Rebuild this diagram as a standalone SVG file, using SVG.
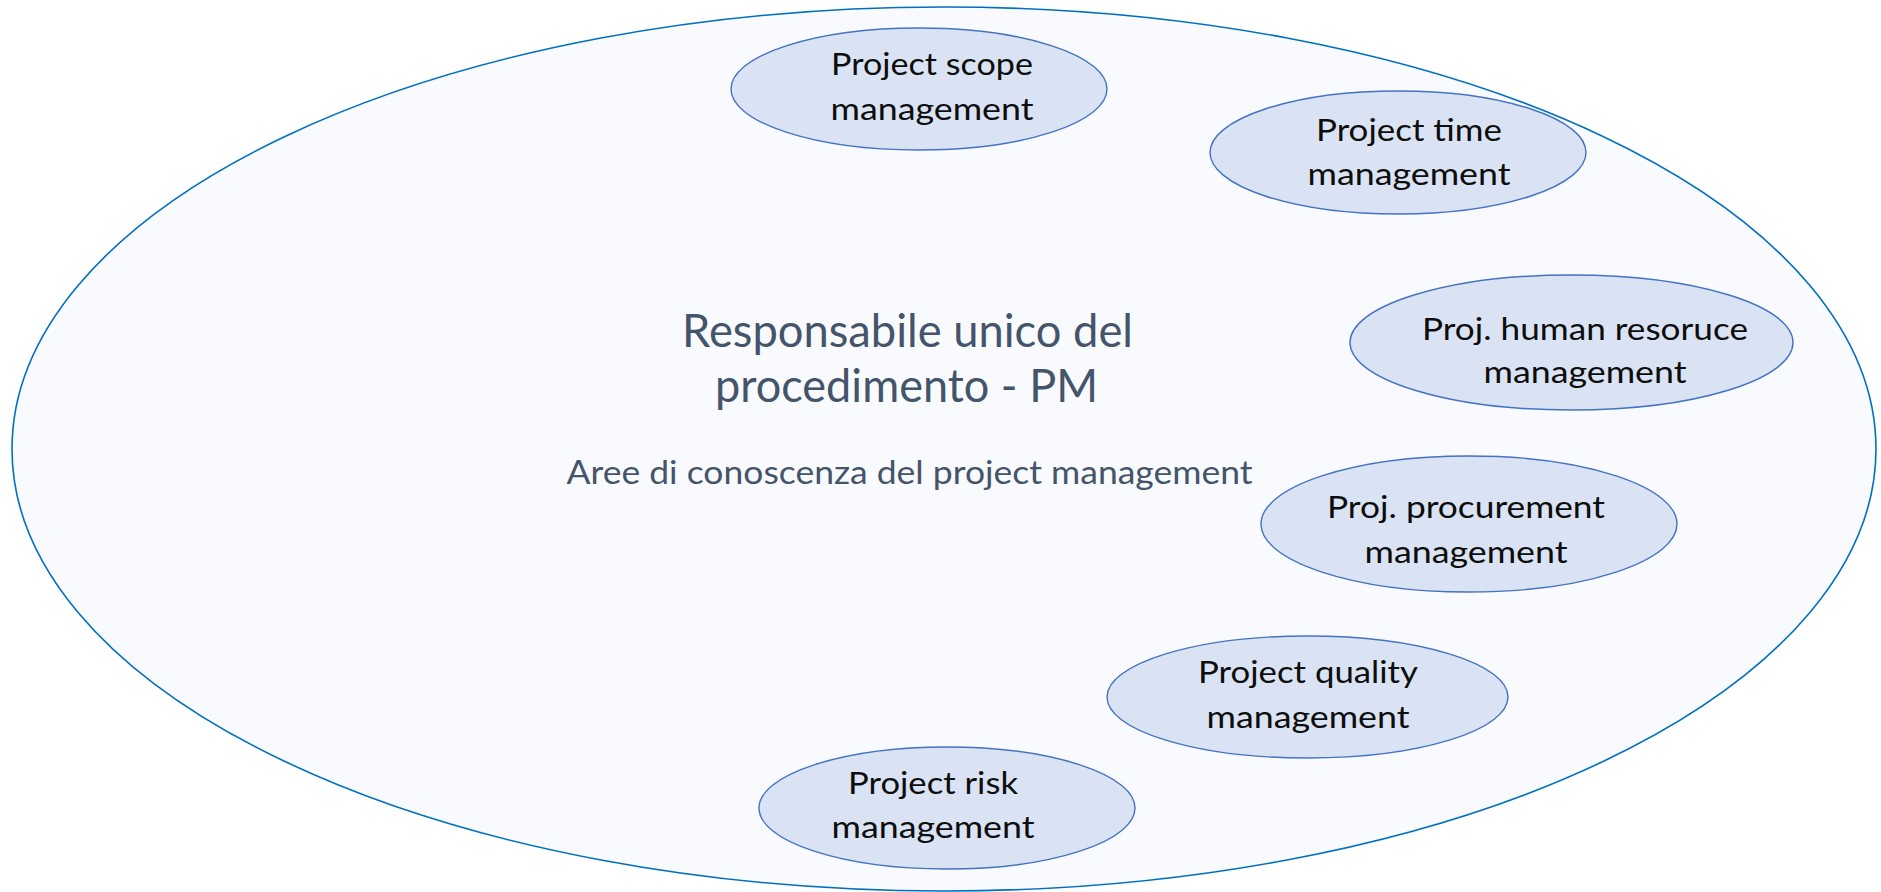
<svg xmlns="http://www.w3.org/2000/svg" width="1881" height="892" viewBox="0 0 1881 892">
<style>
.outer{fill:#F8FAFD;stroke:#0070C0;stroke-width:1.6}
.node{fill:#DAE3F3;stroke:#4472C4;stroke-width:1.4}
.nt{font-family:Lato,"Liberation Sans",sans-serif;font-size:31px;fill:#0D0D0D;text-anchor:middle}
.title{font-family:Lato,"Liberation Sans",sans-serif;font-size:46px;fill:#44546A;text-anchor:middle}
.sub{font-family:Lato,"Liberation Sans",sans-serif;font-size:32px;fill:#44546A;text-anchor:middle}
</style>
<rect width="1881" height="892" fill="#FFFFFF"/>
<g id="container">
<ellipse class="outer" cx="944" cy="449" rx="932" ry="442"/>
<text class="title" x="907.5" y="347" textLength="451" lengthAdjust="spacingAndGlyphs">Responsabile unico del</text>
<text class="title" x="906.5" y="402" textLength="383" lengthAdjust="spacingAndGlyphs">procedimento - PM</text>
<text class="sub" x="909.5" y="484" textLength="686" lengthAdjust="spacingAndGlyphs">Aree di conoscenza del project management</text>
</g>
<g id="scope">
<ellipse class="node" cx="919" cy="89" rx="188" ry="61"/>
<text class="nt" x="932" y="75" textLength="202" lengthAdjust="spacingAndGlyphs">Project scope</text>
<text class="nt" x="932" y="120" textLength="203" lengthAdjust="spacingAndGlyphs">management</text>
</g>
<g id="time">
<ellipse class="node" cx="1398" cy="152.5" rx="188" ry="61.5"/>
<text class="nt" x="1409" y="141" textLength="186" lengthAdjust="spacingAndGlyphs">Project time</text>
<text class="nt" x="1409" y="185" textLength="203" lengthAdjust="spacingAndGlyphs">management</text>
</g>
<g id="human">
<ellipse class="node" cx="1571.5" cy="342.5" rx="221.5" ry="67.5"/>
<text class="nt" x="1585" y="340" textLength="326" lengthAdjust="spacingAndGlyphs">Proj. human resoruce</text>
<text class="nt" x="1585" y="383" textLength="203" lengthAdjust="spacingAndGlyphs">management</text>
</g>
<g id="procurement">
<ellipse class="node" cx="1469" cy="524" rx="208" ry="68"/>
<text class="nt" x="1466" y="518" textLength="278" lengthAdjust="spacingAndGlyphs">Proj. procurement</text>
<text class="nt" x="1466" y="563" textLength="203" lengthAdjust="spacingAndGlyphs">management</text>
</g>
<g id="quality">
<ellipse class="node" cx="1307.5" cy="697" rx="200.5" ry="61"/>
<text class="nt" x="1308" y="683" textLength="220" lengthAdjust="spacingAndGlyphs">Project quality</text>
<text class="nt" x="1308" y="728" textLength="203" lengthAdjust="spacingAndGlyphs">management</text>
</g>
<g id="risk">
<ellipse class="node" cx="947" cy="808" rx="188" ry="61"/>
<text class="nt" x="933" y="794" textLength="170" lengthAdjust="spacingAndGlyphs">Project risk</text>
<text class="nt" x="933" y="838" textLength="203" lengthAdjust="spacingAndGlyphs">management</text>
</g>
</svg>
